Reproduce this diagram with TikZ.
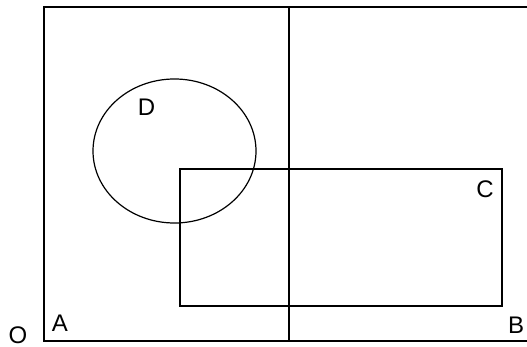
\documentclass[tikz,border=0pt]{standalone}
\usepackage{fontspec}
\setmainfont{Liberation Sans}
\usetikzlibrary{positioning}

\begin{document}
\begin{tikzpicture}[
  x=1pt, y=-1pt,
  font=\fontsize{24}{26}\selectfont,
  label/.style={inner sep=0pt, anchor=center},
  frame/.style={line width=1.2pt},
  divider/.style={line width=1.8pt}
]
\useasboundingbox (0,0) rectangle (527,347);

% outer region, open on the right
\draw[frame] (527,7) -- (44,7) -- (44,341) -- (527,341);
\draw[divider] (289,7) -- (289,341);

% rectangle and ellipse
\draw[frame] (180,169) rectangle (502,306);
\draw[frame] (174.5,151) ellipse [x radius=81.5, y radius=72];

\node[label] (d) at (146.5,107) {D};
\node[label] (c) at (485,189) {C};
\node[label] (a) at (60,323) {A};
\node[label] (b) at (516,325) {B};
\node[label] (o) at (18,335) {O};

\end{tikzpicture}
\end{document}
